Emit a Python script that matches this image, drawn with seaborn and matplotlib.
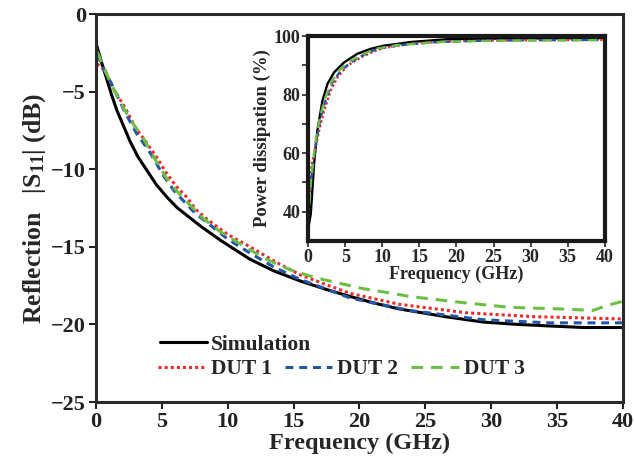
import numpy as np
import pandas as pd
import matplotlib
matplotlib.use("Agg")
import matplotlib.pyplot as plt
import seaborn as sns

# main plot: reflection |S11| (dB) vs frequency (GHz)
sim_f = [0, 0.4, 0.8, 1.2, 1.6, 2.0, 2.6, 3.2, 3.9, 4.6, 5.4, 6.2, 7.1, 8.0, 9.5, 10.5, 11.7,
         13.5, 15.5, 17.5, 19.3, 21.0, 23.0, 26.5, 29.4, 32.0, 34.4, 37.0, 40.0]
sim_db = [-1.8, -3.0, -4.1, -5.2, -6.2, -7.0, -8.2, -9.2, -10.1, -11.0, -11.8, -12.5, -13.1, -13.7,
          -14.6, -15.15, -15.8, -16.55, -17.2, -17.75, -18.2, -18.6, -19.0, -19.5, -19.85, -20.0,
          -20.1, -20.2, -20.2]

dut1_f = [0.1, 0.7, 1.4, 2.2, 3.0, 3.9, 4.6, 5.4, 6.1, 6.9, 7.6, 8.4, 10.0, 11.7, 13.7, 15.5,
          17.5, 19.3, 23.0, 28.1, 33.2, 40.0]
dut1_db = [-3.2, -3.65, -4.9, -6.0, -7.3, -8.35, -9.2, -10.3, -11.1, -11.8, -12.6, -13.2, -14.2,
           -15.0, -16.0, -16.8, -17.45, -18.0, -18.7, -19.25, -19.5, -19.65]

dut2_f = [0.1, 0.6, 1.2, 2.2, 3.1, 4.1, 5.2, 6.0, 7.5, 8.4, 10.0, 11.7, 13.5, 15.5, 19.3, 23.8,
          29.4, 34.4, 40.0]
dut2_db = [-2.6, -3.5, -4.5, -6.3, -7.7, -8.9, -10.5, -11.45, -12.8, -13.4, -14.5, -15.4, -16.3,
           -17.1, -18.3, -19.1, -19.7, -19.9, -19.9]

dut3_f = [0.1, 0.9, 1.8, 2.7, 3.6, 4.6, 5.6, 6.9, 8.2, 9.4, 11.7, 13.2, 14.8, 16.7, 20.3, 22.5,
          23.8, 27.9, 31.4, 35.2, 37.7, 38.7, 40.0]
dut3_db = [-2.4, -4.0, -5.6, -6.9, -8.0, -9.5, -10.9, -12.1, -13.2, -14.0, -15.2, -15.9, -16.5,
           -17.0, -17.7, -18.0, -18.2, -18.6, -18.9, -19.0, -19.1, -18.8, -18.5]

# inset: power dissipation (%) vs frequency (GHz)
pd_sim_f = [0, 0.36, 0.8, 1.25, 1.93, 2.6, 3.5, 4.85, 6.6, 8.4, 10.2, 14.0, 18.7, 25.0, 32.0, 40.0]
pd_sim = [34.0, 39.3, 56.3, 67.7, 77.9, 83.6, 87.6, 91.0, 93.9, 95.6, 96.7, 98.0, 98.9, 99.1, 99.2, 99.3]

pd_dut1_f = [0.2, 0.45, 1.48, 2.15, 3.05, 3.95, 5.3, 7.1, 8.9, 10.2, 14.0, 19.0, 25.0, 32.0, 40.0]
pd_dut1 = [45.0, 55.7, 67.7, 74.5, 81.4, 85.9, 89.9, 92.7, 94.8, 95.9, 97.4, 98.2, 98.5, 98.6, 98.7]

pd_dut2_f = [0.2, 0.45, 1.03, 1.7, 2.4, 3.3, 4.4, 5.75, 7.5, 9.3, 12.0, 17.0, 23.0, 30.0, 40.0]
pd_dut2 = [44.0, 51.8, 63.2, 72.2, 78.5, 84.2, 88.2, 91.0, 93.6, 95.6, 96.8, 97.9, 98.4, 98.6, 98.7]

pd_dut3_f = [0.2, 0.3, 0.95, 1.6, 2.3, 3.2, 4.3, 5.6, 7.4, 9.2, 12.0, 17.0, 23.0, 30.0, 40.0]
pd_dut3 = [43.0, 48.0, 63.5, 72.5, 78.8, 84.5, 88.6, 91.3, 93.8, 95.7, 96.9, 97.9, 98.3, 98.5, 98.6]

labels = ["Simulation", "DUT 1", "DUT 2", "DUT 3"]
colors = ["black", "#ee2a2a", "#2456a8", "#6cbf45"]
styles = ["-", (0, (1, 1)), (0, (2.6, 1.9)), (0, (3.8, 2.6))]

sns.set_theme(style="ticks")
plt.rcParams["font.family"] = ["Liberation Serif", "DejaVu Serif"]
plt.rcParams["font.weight"] = "bold"
plt.rcParams["axes.labelweight"] = "bold"
plt.rcParams["mathtext.fontset"] = "custom"
plt.rcParams["mathtext.rm"] = "Liberation Serif:bold"
plt.rcParams["mathtext.bf"] = "Liberation Serif:bold"
plt.rcParams["mathtext.default"] = "bf"
plt.rcParams["axes.unicode_minus"] = True

fig = plt.figure(figsize=(6.34, 4.68), dpi=100)
ax = fig.add_axes([0.151, 0.141, 0.832, 0.829])

main_series = [(sim_f, sim_db), (dut1_f, dut1_db), (dut2_f, dut2_db), (dut3_f, dut3_db)]
for (f, v), lab, c, ls in zip(main_series, labels, colors, styles):
    sns.lineplot(x=f, y=v, ax=ax, color=c, linestyle=ls, linewidth=2.2, label=lab)

ax.set_xlim(0, 40)
ax.set_ylim(-25, 0)
ax.set_xticks(np.arange(0, 41, 5))
ax.set_yticks(np.arange(-25, 1, 5))
ax.set_xlabel("Frequency (GHz)", fontsize=17.5, labelpad=1)
ax.set_ylabel("Reflection   |S$_{11}$| (dB)", fontsize=18.5, labelpad=2)
ax.tick_params(direction="out", length=5, width=1.5, labelsize=16, colors="#222222", pad=2)
for s in ax.spines.values():
    s.set_linewidth(2.2)
    s.set_color("#2a2a2a")

handles = ax.get_lines()
if ax.get_legend() is not None:
    ax.get_legend().remove()
leg1 = ax.legend([handles[0]], [labels[0]], loc="center left", bbox_to_anchor=(0.121, 0.147),
                 frameon=False, fontsize=15.5, handlelength=2.2, handletextpad=0.2,
                 borderpad=0, borderaxespad=0)
ax.add_artist(leg1)
ax.legend(handles[1:4], labels[1:4], loc="center left", bbox_to_anchor=(0.118, 0.085),
          ncol=3, frameon=False, fontsize=15.5, handlelength=2.2, handletextpad=0.25,
          columnspacing=0.6, borderpad=0, borderaxespad=0)

# inset
ins = fig.add_axes([0.486, 0.485, 0.468, 0.438])
inset_series = [(pd_sim_f, pd_sim), (pd_dut1_f, pd_dut1), (pd_dut2_f, pd_dut2), (pd_dut3_f, pd_dut3)]
for (f, v), c, ls in zip(inset_series, colors, styles):
    sns.lineplot(x=f, y=v, ax=ins, color=c, linestyle=ls, linewidth=1.7)
ins.set_xlim(0, 40)
ins.set_ylim(30, 100)
ins.set_xticks(np.arange(0, 41, 5))
ins.set_yticks([40, 60, 80, 100])
ins.set_yticks([50, 70, 90], minor=True)
ins.set_xlabel("Frequency (GHz)", fontsize=13, labelpad=0)
ins.set_ylabel("Power dissipation (%)", fontsize=13.5, labelpad=2)
ins.tick_params(which="both", direction="out", length=4, width=1.2, labelsize=13, pad=1.5)
for s in ins.spines.values():
    s.set_linewidth(3.0)
    s.set_color("#1a1a1a")

fig.savefig("out.png", dpi=100)
